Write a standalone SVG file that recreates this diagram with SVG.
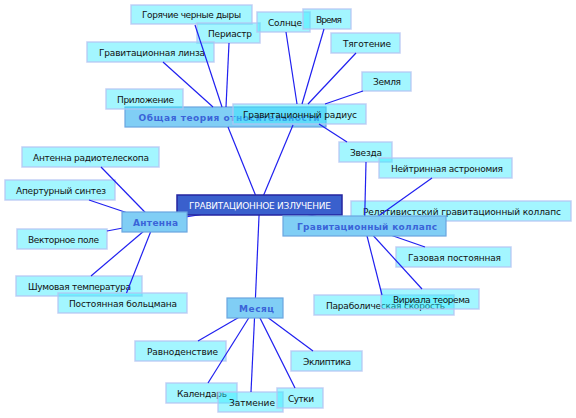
<svg xmlns="http://www.w3.org/2000/svg" width="576" height="418" viewBox="0 0 576 418">
<style>
.leaf rect{fill:#33eaff;fill-opacity:0.45;stroke:#b4c4f2;stroke-width:1.5;stroke-opacity:0.8}
.leaf text{font-family:"DejaVu Sans",sans-serif;font-size:9px;fill:#111;text-anchor:middle}
.main rect{fill:#80cef5;stroke:#6aa6e0;stroke-width:1.2}
.main text{font-family:"DejaVu Sans",sans-serif;font-size:9px;font-weight:bold;fill:#3a64d8;text-anchor:middle}
.root rect{fill:#3a60cd;stroke:#2525a0;stroke-width:1.5}
.root text{font-family:"DejaVu Sans",sans-serif;font-size:9px;fill:#fff;text-anchor:middle}
#connectors line{stroke:#2020f0;stroke-width:1.2}
</style>
<rect width="576" height="418" fill="#fff"/>
<g id="n-obshchaya" class="main"><rect x="125" y="107" width="201" height="20"/><text x="229" y="120.5" textLength="181" lengthAdjust="spacing">Общая теория относительности</text></g>
<g id="n-goryachie" class="leaf"><rect x="131" y="5" width="121" height="19"/><text x="191.5" y="18" textLength="99" lengthAdjust="spacing">Горячие черные дыры</text></g>
<g id="n-periastr" class="leaf"><rect x="197" y="23" width="63" height="20"/><text x="230" y="36.5" textLength="44" lengthAdjust="spacing">Периастр</text></g>
<g id="n-linza" class="leaf"><rect x="87" y="42" width="127" height="20"/><text x="152" y="55.5" textLength="106" lengthAdjust="spacing">Гравитационная линза</text></g>
<g id="n-prilozhenie" class="leaf"><rect x="106" y="89" width="77" height="20"/><text x="145.5" y="102.5" textLength="57" lengthAdjust="spacing">Приложение</text></g>
<g id="n-solntse" class="leaf"><rect x="257" y="12" width="53" height="20"/><text x="285" y="25.5" textLength="34" lengthAdjust="spacing">Солнце</text></g>
<g id="n-vremya" class="leaf"><rect x="303" y="9" width="48" height="20"/><text x="329" y="22.5" textLength="26" lengthAdjust="spacing">Время</text></g>
<g id="n-tyagotenie" class="leaf"><rect x="331" y="33" width="69" height="20"/><text x="367" y="46.5" textLength="48" lengthAdjust="spacing">Тяготение</text></g>
<g id="n-zemlya" class="leaf"><rect x="362" y="72" width="49" height="19"/><text x="387" y="85" textLength="28" lengthAdjust="spacing">Земля</text></g>
<g id="n-radius" class="leaf"><rect x="233" y="104" width="133" height="20"/><text x="300" y="117.5" textLength="114" lengthAdjust="spacing">Гравитационный радиус</text></g>
<g id="n-zvezda" class="leaf"><rect x="339" y="142" width="53" height="20"/><text x="366" y="155.5" textLength="32" lengthAdjust="spacing">Звезда</text></g>
<g id="n-neitrino" class="leaf"><rect x="379" y="158" width="133" height="20"/><text x="447" y="171.5" textLength="112" lengthAdjust="spacing">Нейтринная астрономия</text></g>
<g id="n-relyat" class="leaf"><rect x="351" y="201" width="220" height="20"/><text x="462" y="214.5" textLength="198" lengthAdjust="spacing">Релятивистский гравитационный коллапс</text></g>
<g id="n-gazovaya" class="leaf"><rect x="396" y="247" width="115" height="20"/><text x="454.5" y="260.5" textLength="93" lengthAdjust="spacing">Газовая постоянная</text></g>
<g id="n-parabol" class="leaf"><rect x="314" y="295" width="140" height="20"/><text x="385.5" y="308.5" textLength="119" lengthAdjust="spacing">Параболическая скорость</text></g>
<g id="n-virial" class="leaf"><rect x="381" y="289" width="98" height="20"/><text x="431.5" y="302.5" textLength="77" lengthAdjust="spacing">Вириала теорема</text></g>
<g id="n-radioteleskop" class="leaf"><rect x="22" y="147" width="137" height="20"/><text x="91" y="160.5" textLength="116" lengthAdjust="spacing">Антенна радиотелескопа</text></g>
<g id="n-apertur" class="leaf"><rect x="5" y="180" width="110" height="20"/><text x="61" y="193.5" textLength="90" lengthAdjust="spacing">Апертурный синтез</text></g>
<g id="n-vektor" class="leaf"><rect x="17" y="229" width="90" height="20"/><text x="63.5" y="242.5" textLength="71" lengthAdjust="spacing">Векторное поле</text></g>
<g id="n-shum" class="leaf"><rect x="16" y="276" width="126" height="20"/><text x="79.5" y="289.5" textLength="103" lengthAdjust="spacing">Шумовая температура</text></g>
<g id="n-boltsman" class="leaf"><rect x="58" y="293" width="129" height="20"/><text x="123" y="306.5" textLength="108" lengthAdjust="spacing">Постоянная больцмана</text></g>
<g id="n-ravnodenstvie" class="leaf"><rect x="135" y="341" width="91" height="20"/><text x="182.5" y="354.5" textLength="71" lengthAdjust="spacing">Равноденствие</text></g>
<g id="n-ekliptika" class="leaf"><rect x="291" y="351" width="71" height="20"/><text x="327" y="364.5" textLength="48" lengthAdjust="spacing">Эклиптика</text></g>
<g id="n-kalendar" class="leaf"><rect x="166" y="383" width="71" height="20"/><text x="202" y="396.5" textLength="50" lengthAdjust="spacing">Календарь</text></g>
<g id="n-zatmenie" class="leaf"><rect x="218" y="392" width="65" height="20"/><text x="252" y="405.5" textLength="46" lengthAdjust="spacing">Затмение</text></g>
<g id="n-sutki" class="leaf"><rect x="277" y="388" width="46" height="20"/><text x="301" y="401.5" textLength="26" lengthAdjust="spacing">Сутки</text></g>
<g id="connectors">
<line x1="195" y1="25" x2="222" y2="107"/>
<line x1="229" y1="43" x2="226" y2="107"/>
<line x1="163" y1="62" x2="213" y2="107"/>
<line x1="228" y1="127" x2="259.5" y2="205"/>
<line x1="293" y1="125" x2="259.5" y2="205"/>
<line x1="286" y1="32" x2="297" y2="104"/>
<line x1="324" y1="29" x2="302" y2="104"/>
<line x1="356" y1="53" x2="308" y2="104"/>
<line x1="363" y1="91" x2="325" y2="104"/>
<line x1="319" y1="124" x2="347" y2="142"/>
<line x1="366" y1="162" x2="364.5" y2="226"/>
<line x1="259.5" y1="205" x2="364.5" y2="226"/>
<line x1="432" y1="178" x2="364.5" y2="226"/>
<line x1="425" y1="247" x2="364.5" y2="226"/>
<line x1="422" y1="289" x2="364.5" y2="226"/>
<line x1="382" y1="295" x2="364.5" y2="226"/>
<line x1="259.5" y1="205" x2="154.5" y2="222"/>
<line x1="101" y1="167" x2="154.5" y2="222"/>
<line x1="89" y1="200" x2="154.5" y2="222"/>
<line x1="107" y1="231" x2="154.5" y2="222"/>
<line x1="91" y1="276" x2="154.5" y2="222"/>
<line x1="126.5" y1="293" x2="154.5" y2="222"/>
<line x1="259.5" y1="205" x2="255" y2="308"/>
<line x1="198" y1="341" x2="255" y2="308"/>
<line x1="208" y1="383" x2="255" y2="308"/>
<line x1="251" y1="392" x2="255" y2="308"/>
<line x1="295" y1="388" x2="255" y2="308"/>
<line x1="313" y1="351" x2="255" y2="308"/>
</g>
<g id="n-root" class="root"><rect x="177" y="195" width="165" height="20"/><text x="260" y="208.5" textLength="142" lengthAdjust="spacing">ГРАВИТАЦИОННОЕ ИЗЛУЧЕНИЕ</text></g>
<g id="n-antenna" class="main"><rect x="122" y="212" width="65" height="20"/><text x="155.5" y="225.5" textLength="45" lengthAdjust="spacing">Антенна</text></g>
<g id="n-kollaps" class="main"><rect x="283" y="216" width="163" height="20"/><text x="367" y="229.5" textLength="140" lengthAdjust="spacing">Гравитационный коллапс</text></g>
<g id="n-mesyats" class="main"><rect x="227" y="298" width="56" height="20"/><text x="256.5" y="311.5" textLength="35" lengthAdjust="spacing">Месяц</text></g>
</svg>
